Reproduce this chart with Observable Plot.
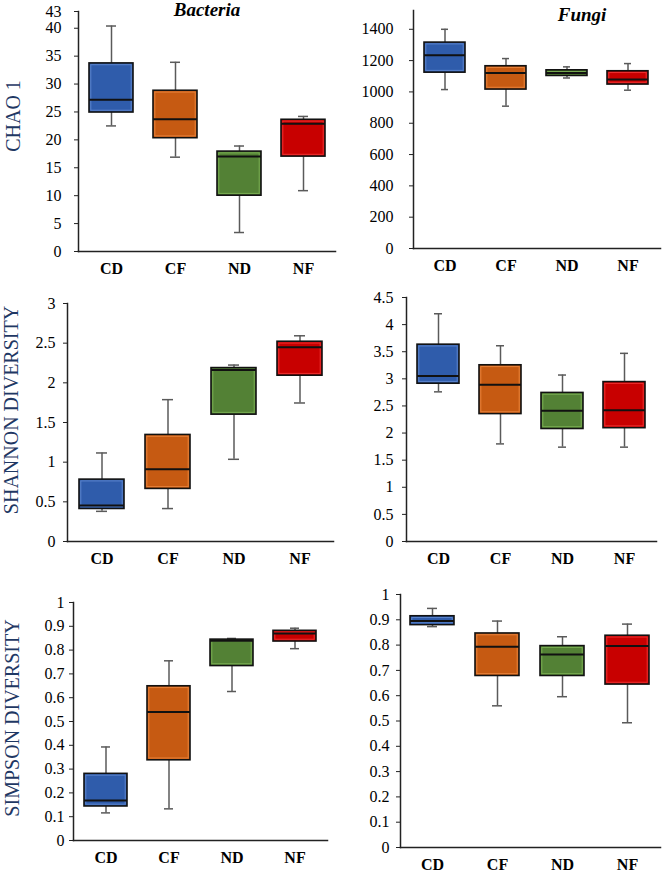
<!DOCTYPE html>
<html>
<head>
<meta charset="utf-8">
<script src="https://cdn.jsdelivr.net/npm/d3@7"></script>
<script src="https://cdn.jsdelivr.net/npm/@observablehq/plot@0.6"></script>
<style>
  html, body { margin: 0; padding: 0; background: #fff; }
  #wrap { position: relative; width: 663px; height: 874px; overflow: hidden; font-family: "Liberation Serif", "Times New Roman", serif; }
  #wrap svg, #wrap svg text, #wrap svg g { font-family: "Liberation Serif", "Times New Roman", serif !important; }
  .panel { position: absolute; }
  .ylab { position: absolute; color: #1f3864; font-size: 20px; white-space: nowrap; transform: translate(-50%, -50%) rotate(-90deg); font-family: "Liberation Serif", serif; }
  .title { position: absolute; font-size: 19px; font-weight: bold; font-style: italic; transform: translate(-50%, -50%); font-family: "Liberation Serif", serif; }
</style>
</head>
<body>
<div id="wrap"></div>
<script>
// ---------- data ----------
const categories = ["CD", "CF", "ND", "NF"];
const colors = ["#2f5cab", "#c65a12", "#538135", "#c80000"];
const innerColors = ["#5b84cc", "#e8823a", "#79ad52", "#ee3030"];

// CHAO 1 - Bacteria
const chaoBactMin = [22.5, 16.9, 3.4, 10.9];
const chaoBactQ1  = [24.9, 20.3, 10.0, 17.0];
const chaoBactMed = [27.2, 23.7, 17.0, 22.9];
const chaoBactQ3  = [33.7, 28.8, 17.9, 23.6];
const chaoBactMax = [40.4, 33.9, 18.9, 24.2];
const chaoBactTicks = [0, 5, 10, 15, 20, 25, 30, 35, 40, 43];

// CHAO 1 - Fungi
const chaoFungMin = [1015, 909, 1089, 1011];
const chaoFungQ1  = [1123, 1015, 1102, 1047];
const chaoFungMed = [1234, 1121, 1121, 1079];
const chaoFungQ3  = [1315, 1164, 1138, 1132];
const chaoFungMax = [1400, 1213, 1160, 1181];
const chaoFungTicks = [0, 200, 400, 600, 800, 1000, 1200, 1400];

// Shannon - Bacteria
const shanBactMin = [0.38, 0.415, 1.036, 1.746];
const shanBactQ1  = [0.41, 0.663, 1.599, 2.09];
const shanBactMed = [0.453, 0.91, 2.161, 2.447];
const shanBactQ3  = [0.78, 1.343, 2.186, 2.518];
const shanBactMax = [1.116, 1.788, 2.224, 2.593];
const shanBactTicks = [0, 0.5, 1, 1.5, 2, 2.5, 3];

// Shannon - Fungi
const shanFungMin = [2.76, 1.80, 1.74, 1.74];
const shanFungQ1  = [2.91, 2.35, 2.075, 2.09];
const shanFungMed = [3.05, 2.89, 2.41, 2.42];
const shanFungQ3  = [3.63, 3.25, 2.74, 2.94];
const shanFungMax = [4.2, 3.61, 3.07, 3.47];
const shanFungTicks = [0, 0.5, 1, 1.5, 2, 2.5, 3, 3.5, 4, 4.5];

// Simpson - Bacteria
const simpBactMin = [0.116, 0.133, 0.626, 0.806];
const simpBactQ1  = [0.143, 0.337, 0.733, 0.836];
const simpBactMed = [0.168, 0.54, 0.839, 0.87];
const simpBactQ3  = [0.28, 0.648, 0.844, 0.881];
const simpBactMax = [0.393, 0.755, 0.849, 0.892];
const simpTicks = [0, 0.1, 0.2, 0.3, 0.4, 0.5, 0.6, 0.7, 0.8, 0.9, 1];

// Simpson - Fungi
const simpFungMin = [0.873, 0.56, 0.596, 0.493];
const simpFungQ1  = [0.879, 0.678, 0.678, 0.644];
const simpFungMed = [0.895, 0.793, 0.763, 0.796];
const simpFungQ3  = [0.914, 0.846, 0.796, 0.837];
const simpFungMax = [0.945, 0.895, 0.833, 0.883];

const yLabels = ["CHAO 1", "SHANNON DIVERSITY", "SIMPSON DIVERSITY"];
const titles = ["Bacteria", "Fungi"];

// ---------- helpers ----------
function rows(mn, q1, md, q3, mx) {
  return categories.map((c, i) => ({cat: c, min: mn[i], q1: q1[i], med: md[i], q3: q3[i], max: mx[i], fill: colors[i], inner: innerColors[i]}));
}

function boxPlot(data, o) {
  return Plot.plot({
    width: o.width, height: o.height,
    marginLeft: o.ml, marginRight: o.mr, marginTop: o.mt, marginBottom: o.mb,
    style: {fontFamily: "'Liberation Serif', serif", fontSize: "16px", color: "#000", background: "transparent"},
    x: {domain: categories, type: "band", paddingInner: 0.32, paddingOuter: 0.16, label: null},
    y: {domain: o.domain, label: null},
    marks: [
      Plot.ruleX(data, {x: "cat", y1: "min", y2: "q1", stroke: "#5a5a5a", strokeWidth: 1.5}),
      Plot.ruleX(data, {x: "cat", y1: "q3", y2: "max", stroke: "#5a5a5a", strokeWidth: 1.5}),
      Plot.tickY(data, {x: "cat", y: "min", stroke: "#5a5a5a", strokeWidth: 1.5, insetLeft: 17, insetRight: 17}),
      Plot.tickY(data, {x: "cat", y: "max", stroke: "#5a5a5a", strokeWidth: 1.5, insetLeft: 17, insetRight: 17}),
      Plot.barY(data, {x: "cat", y1: "q1", y2: "q3", fill: "fill", stroke: "#111", strokeWidth: 1.6}),
      Plot.barY(data, {x: "cat", y1: "q1", y2: "q3", fill: "none", stroke: "inner", strokeWidth: 1, inset: 1.8}),
      Plot.tickY(data, {x: "cat", y: "med", stroke: "#111", strokeWidth: 2}),
      Plot.axisY({ticks: o.ticks, tickFormat: d => String(d), tickSize: 4, tickPadding: o.tp, stroke: "#222", fontSize: 16, label: null}),
      Plot.axisX({tickSize: 0, tickPadding: 11, fontWeight: "bold", fontSize: 16, label: null}),
      Plot.frame({anchor: "left", stroke: "#222", strokeWidth: 1.5}),
      Plot.frame({anchor: "bottom", stroke: "#222", strokeWidth: 1.5})
    ]
  });
}

const panels = [
  {data: rows(chaoBactMin, chaoBactQ1, chaoBactMed, chaoBactQ3, chaoBactMax), left: 0, top: 0, width: 340, height: 285, ml: 78, mr: 5, mt: 11, mb: 34, domain: [0, 43], ticks: chaoBactTicks, tp: 13},
  {data: rows(chaoFungMin, chaoFungQ1, chaoFungMed, chaoFungQ3, chaoFungMax), left: 330, top: 0, width: 333, height: 285, ml: 83, mr: 3, mt: 10, mb: 37, domain: [0, 1520], ticks: chaoFungTicks, tp: 16},
  {data: rows(shanBactMin, shanBactQ1, shanBactMed, shanBactQ3, shanBactMax), left: 0, top: 285, width: 340, height: 290, ml: 67, mr: 7, mt: 18, mb: 34, domain: [0, 3], ticks: shanBactTicks, tp: 8},
  {data: rows(shanFungMin, shanFungQ1, shanFungMed, shanFungQ3, shanFungMax), left: 330, top: 285, width: 333, height: 290, ml: 76, mr: 7, mt: 12, mb: 34, domain: [0, 4.5], ticks: shanFungTicks, tp: 9},
  {data: rows(simpBactMin, simpBactQ1, simpBactMed, simpBactQ3, simpBactMax), left: 0, top: 575, width: 340, height: 299, ml: 73, mr: 13, mt: 27, mb: 34, domain: [0, 1], ticks: simpTicks, tp: 5},
  {data: rows(simpFungMin, simpFungQ1, simpFungMed, simpFungQ3, simpFungMax), left: 330, top: 575, width: 333, height: 299, ml: 70, mr: 3, mt: 19, mb: 27, domain: [0, 1], ticks: simpTicks, tp: 7}
];

const wrap = document.getElementById("wrap");
for (const p of panels) {
  const div = document.createElement("div");
  div.className = "panel";
  div.style.left = p.left + "px";
  div.style.top = p.top + "px";
  div.appendChild(boxPlot(p.data, p));
  wrap.appendChild(div);
}

const ylabPos = [[13, 116], [11, 410], [12, 718]];
yLabels.forEach((t, i) => {
  const d = document.createElement("div");
  d.className = "ylab";
  d.textContent = t;
  d.style.left = ylabPos[i][0] + "px";
  d.style.top = ylabPos[i][1] + "px";
  wrap.appendChild(d);
});

const titlePos = [[207, 10], [582, 15]];
titles.forEach((t, i) => {
  const d = document.createElement("div");
  d.className = "title";
  d.textContent = t;
  d.style.left = titlePos[i][0] + "px";
  d.style.top = titlePos[i][1] + "px";
  wrap.appendChild(d);
});
</script>
</body>
</html>
